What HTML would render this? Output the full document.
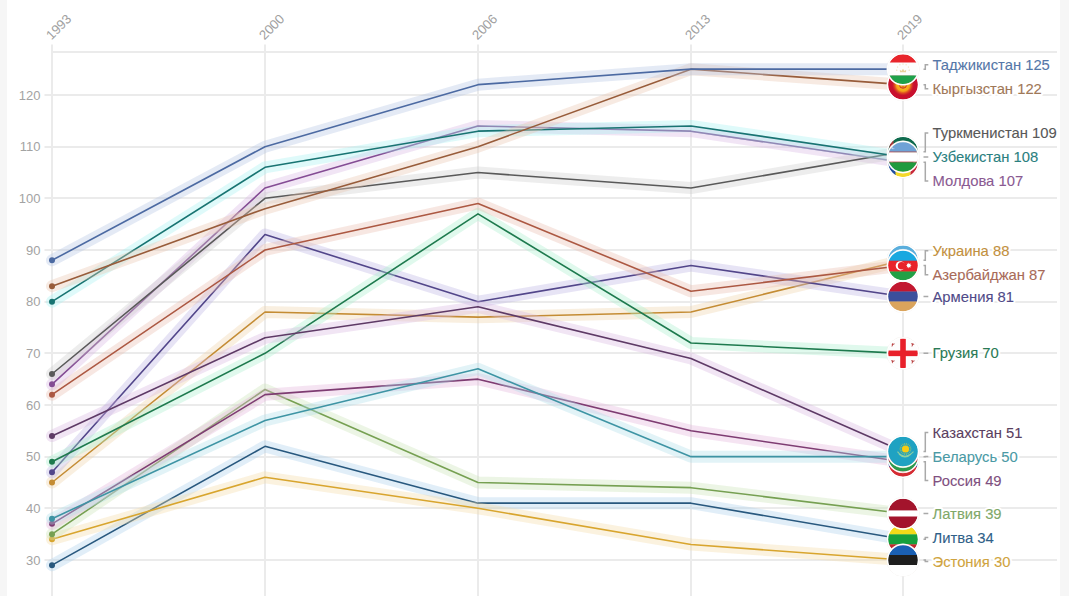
<!DOCTYPE html>
<html><head><meta charset="utf-8">
<style>
html,body{margin:0;padding:0;background:#fff;}
body{width:1069px;height:596px;overflow:hidden;position:relative;}
svg{position:absolute;left:0;top:0;}
text{font-family:"Liberation Sans",sans-serif;}
</style></head><body>
<svg width="1069" height="596" viewBox="0 0 1069 596">
<rect x="0" y="0" width="1069" height="596" fill="#fff"/>
<rect x="0" y="0" width="7" height="596" fill="#f6f6f6"/>
<rect x="1060" y="0" width="9" height="596" fill="#f6f6f6"/>

<g stroke="#ebebeb" stroke-width="2"><line x1="51" y1="52" x2="1057" y2="52"/><line x1="44.5" y1="560.00" x2="1057" y2="560.00"/><line x1="44.5" y1="508.00" x2="1057" y2="508.00"/><line x1="44.5" y1="457.00" x2="1057" y2="457.00"/><line x1="44.5" y1="405.00" x2="1057" y2="405.00"/><line x1="44.5" y1="353.00" x2="1057" y2="353.00"/><line x1="44.5" y1="302.00" x2="1057" y2="302.00"/><line x1="44.5" y1="250.00" x2="1057" y2="250.00"/><line x1="44.5" y1="198.00" x2="1057" y2="198.00"/><line x1="44.5" y1="147.00" x2="1057" y2="147.00"/><line x1="44.5" y1="95.00" x2="1057" y2="95.00"/><line x1="52.00" y1="44.5" x2="52.00" y2="596"/><line x1="265.00" y1="44.5" x2="265.00" y2="596"/><line x1="478.00" y1="44.5" x2="478.00" y2="596"/><line x1="691.00" y1="44.5" x2="691.00" y2="596"/><line x1="903.00" y1="44.5" x2="903.00" y2="596"/></g>
<g fill="#a3a3a3" font-size="13"><text x="40.5" y="564.80" text-anchor="end">30</text><text x="40.5" y="513.13" text-anchor="end">40</text><text x="40.5" y="461.47" text-anchor="end">50</text><text x="40.5" y="409.80" text-anchor="end">60</text><text x="40.5" y="358.13" text-anchor="end">70</text><text x="40.5" y="306.47" text-anchor="end">80</text><text x="40.5" y="254.80" text-anchor="end">90</text><text x="40.5" y="203.13" text-anchor="end">100</text><text x="40.5" y="151.47" text-anchor="end">110</text><text x="40.5" y="99.80" text-anchor="end">120</text></g>
<g fill="#a0a0a0" font-size="13.2"><text transform="translate(51.50,40.5) rotate(-45)">1993</text><text transform="translate(264.50,40.5) rotate(-45)">2000</text><text transform="translate(477.50,40.5) rotate(-45)">2006</text><text transform="translate(690.50,40.5) rotate(-45)">2013</text><text transform="translate(902.50,40.5) rotate(-45)">2019</text></g>
<g><polyline points="52.00,565.17 265.00,446.33 478.00,503.17 691.00,503.17 903.00,539.33" stroke="#add0eb" stroke-opacity="0.36" stroke-width="12" fill="none" stroke-linejoin="round" stroke-linecap="round"/><polyline points="52.00,565.17 265.00,446.33 478.00,503.17 691.00,503.17 903.00,539.33" stroke="#28587e" stroke-width="1.6" fill="none" stroke-linejoin="round"/><circle cx="52.00" cy="565.17" r="3" fill="#28587e"/><polyline points="52.00,539.33 265.00,477.33 478.00,508.33 691.00,544.50 903.00,560.00" stroke="#f3dca5" stroke-opacity="0.36" stroke-width="12" fill="none" stroke-linejoin="round" stroke-linecap="round"/><polyline points="52.00,539.33 265.00,477.33 478.00,508.33 691.00,544.50 903.00,560.00" stroke="#d8a52e" stroke-width="1.6" fill="none" stroke-linejoin="round"/><circle cx="52.00" cy="539.33" r="3" fill="#d8a52e"/><polyline points="52.00,534.17 265.00,389.50 478.00,482.50 691.00,487.67 903.00,513.50" stroke="#cae2b6" stroke-opacity="0.36" stroke-width="12" fill="none" stroke-linejoin="round" stroke-linecap="round"/><polyline points="52.00,534.17 265.00,389.50 478.00,482.50 691.00,487.67 903.00,513.50" stroke="#76a052" stroke-width="1.6" fill="none" stroke-linejoin="round"/><circle cx="52.00" cy="534.17" r="3" fill="#76a052"/><polyline points="52.00,523.83 265.00,394.67 478.00,379.17 691.00,430.83 903.00,461.83" stroke="#e4b4db" stroke-opacity="0.36" stroke-width="12" fill="none" stroke-linejoin="round" stroke-linecap="round"/><polyline points="52.00,523.83 265.00,394.67 478.00,379.17 691.00,430.83 903.00,461.83" stroke="#7e3c72" stroke-width="1.6" fill="none" stroke-linejoin="round"/><circle cx="52.00" cy="523.83" r="3" fill="#7e3c72"/><polyline points="52.00,518.67 265.00,420.50 478.00,368.83 691.00,456.67 903.00,456.67" stroke="#b0dfe8" stroke-opacity="0.36" stroke-width="12" fill="none" stroke-linejoin="round" stroke-linecap="round"/><polyline points="52.00,518.67 265.00,420.50 478.00,368.83 691.00,456.67 903.00,456.67" stroke="#3e94a4" stroke-width="1.6" fill="none" stroke-linejoin="round"/><circle cx="52.00" cy="518.67" r="3" fill="#3e94a4"/><polyline points="52.00,482.50 265.00,312.00 478.00,317.17 691.00,312.00 903.00,260.33" stroke="#eed4aa" stroke-opacity="0.36" stroke-width="12" fill="none" stroke-linejoin="round" stroke-linecap="round"/><polyline points="52.00,482.50 265.00,312.00 478.00,317.17 691.00,312.00 903.00,260.33" stroke="#c48c34" stroke-width="1.6" fill="none" stroke-linejoin="round"/><circle cx="52.00" cy="482.50" r="3" fill="#c48c34"/><polyline points="52.00,472.17 265.00,234.50 478.00,301.67 691.00,265.50 903.00,296.50" stroke="#bdb5e3" stroke-opacity="0.36" stroke-width="12" fill="none" stroke-linejoin="round" stroke-linecap="round"/><polyline points="52.00,472.17 265.00,234.50 478.00,301.67 691.00,265.50 903.00,296.50" stroke="#52468a" stroke-width="1.6" fill="none" stroke-linejoin="round"/><circle cx="52.00" cy="472.17" r="3" fill="#52468a"/><polyline points="52.00,461.83 265.00,353.33 478.00,213.83 691.00,343.00 903.00,353.33" stroke="#a9efce" stroke-opacity="0.36" stroke-width="12" fill="none" stroke-linejoin="round" stroke-linecap="round"/><polyline points="52.00,461.83 265.00,353.33 478.00,213.83 691.00,343.00 903.00,353.33" stroke="#1e7a4e" stroke-width="1.6" fill="none" stroke-linejoin="round"/><circle cx="52.00" cy="461.83" r="3" fill="#1e7a4e"/><polyline points="52.00,436.00 265.00,337.83 478.00,306.83 691.00,358.50 903.00,451.50" stroke="#d9b8e0" stroke-opacity="0.36" stroke-width="12" fill="none" stroke-linejoin="round" stroke-linecap="round"/><polyline points="52.00,436.00 265.00,337.83 478.00,306.83 691.00,358.50 903.00,451.50" stroke="#5e3a66" stroke-width="1.6" fill="none" stroke-linejoin="round"/><circle cx="52.00" cy="436.00" r="3" fill="#5e3a66"/><polyline points="52.00,394.67 265.00,250.00 478.00,203.50 691.00,291.33 903.00,265.50" stroke="#e8bcb0" stroke-opacity="0.36" stroke-width="12" fill="none" stroke-linejoin="round" stroke-linecap="round"/><polyline points="52.00,394.67 265.00,250.00 478.00,203.50 691.00,291.33 903.00,265.50" stroke="#ac5842" stroke-width="1.6" fill="none" stroke-linejoin="round"/><circle cx="52.00" cy="394.67" r="3" fill="#ac5842"/><polyline points="52.00,384.33 265.00,188.00 478.00,126.00 691.00,131.17 903.00,162.17" stroke="#d8b6e2" stroke-opacity="0.36" stroke-width="12" fill="none" stroke-linejoin="round" stroke-linecap="round"/><polyline points="52.00,384.33 265.00,188.00 478.00,126.00 691.00,131.17 903.00,162.17" stroke="#844c94" stroke-width="1.6" fill="none" stroke-linejoin="round"/><circle cx="52.00" cy="384.33" r="3" fill="#844c94"/><polyline points="52.00,374.00 265.00,198.33 478.00,172.50 691.00,188.00 903.00,151.83" stroke="#cccccc" stroke-opacity="0.36" stroke-width="12" fill="none" stroke-linejoin="round" stroke-linecap="round"/><polyline points="52.00,374.00 265.00,198.33 478.00,172.50 691.00,188.00 903.00,151.83" stroke="#595959" stroke-width="1.6" fill="none" stroke-linejoin="round"/><circle cx="52.00" cy="374.00" r="3" fill="#595959"/><polyline points="52.00,301.67 265.00,167.33 478.00,131.17 691.00,126.00 903.00,157.00" stroke="#a6f2f0" stroke-opacity="0.36" stroke-width="12" fill="none" stroke-linejoin="round" stroke-linecap="round"/><polyline points="52.00,301.67 265.00,167.33 478.00,131.17 691.00,126.00 903.00,157.00" stroke="#187472" stroke-width="1.6" fill="none" stroke-linejoin="round"/><circle cx="52.00" cy="301.67" r="3" fill="#187472"/><polyline points="52.00,286.17 265.00,208.67 478.00,146.67 691.00,69.17 903.00,84.67" stroke="#e8c4b0" stroke-opacity="0.36" stroke-width="12" fill="none" stroke-linejoin="round" stroke-linecap="round"/><polyline points="52.00,286.17 265.00,208.67 478.00,146.67 691.00,69.17 903.00,84.67" stroke="#985c3a" stroke-width="1.6" fill="none" stroke-linejoin="round"/><circle cx="52.00" cy="286.17" r="3" fill="#985c3a"/><polyline points="52.00,260.33 265.00,146.67 478.00,84.67 691.00,69.17 903.00,69.17" stroke="#b4c5e4" stroke-opacity="0.36" stroke-width="12" fill="none" stroke-linejoin="round" stroke-linecap="round"/><polyline points="52.00,260.33 265.00,146.67 478.00,84.67 691.00,69.17 903.00,69.17" stroke="#4c6aa2" stroke-width="1.6" fill="none" stroke-linejoin="round"/><circle cx="52.00" cy="260.33" r="3" fill="#4c6aa2"/></g>
<defs><clipPath id="clip_tj"><circle cx="903.00" cy="69.17" r="15"/></clipPath><clipPath id="clip_kg"><circle cx="903.00" cy="84.67" r="15"/></clipPath><clipPath id="clip_tm"><circle cx="903.00" cy="151.83" r="15"/></clipPath><clipPath id="clip_md"><circle cx="903.00" cy="162.17" r="15"/></clipPath><clipPath id="clip_uz"><circle cx="903.00" cy="157.00" r="15"/></clipPath><clipPath id="clip_ua"><circle cx="903.00" cy="260.33" r="15"/></clipPath><clipPath id="clip_az"><circle cx="903.00" cy="265.50" r="15"/></clipPath><clipPath id="clip_am"><circle cx="903.00" cy="296.50" r="15"/></clipPath><clipPath id="clip_ge"><circle cx="903.00" cy="353.33" r="15"/></clipPath><clipPath id="clip_ru"><circle cx="903.00" cy="461.83" r="15"/></clipPath><clipPath id="clip_by"><circle cx="903.00" cy="456.67" r="15"/></clipPath><clipPath id="clip_kz"><circle cx="903.00" cy="451.50" r="15"/></clipPath><clipPath id="clip_lt"><circle cx="903.00" cy="539.33" r="15"/></clipPath><clipPath id="clip_lv"><circle cx="903.00" cy="513.50" r="15"/></clipPath><clipPath id="clip_ee"><circle cx="903.00" cy="560.00" r="15"/></clipPath></defs>
<circle cx="903.00" cy="539.33" r="16.2" fill="none" stroke="#ece8e2" stroke-width="0.6"/><g clip-path="url(#clip_lt)"><rect x="888.00" y="524.33" width="30" height="10.30" fill="#f2da18"/><rect x="888.00" y="534.33" width="30" height="10.30" fill="#17a03c"/><rect x="888.00" y="544.33" width="30" height="10.30" fill="#c1272d"/></g><circle cx="903.00" cy="539.33" r="15.5" fill="none" stroke="#fff" stroke-width="1.4"/><circle cx="903.00" cy="560.00" r="16.2" fill="none" stroke="#ece8e2" stroke-width="0.6"/><g clip-path="url(#clip_ee)"><rect x="888.00" y="545.00" width="30" height="10.30" fill="#1a60b4"/><rect x="888.00" y="555.00" width="30" height="10.30" fill="#1e1e1e"/><rect x="888.00" y="565.00" width="30" height="10.30" fill="#ffffff"/></g><circle cx="903.00" cy="560.00" r="15.5" fill="none" stroke="#fff" stroke-width="1.4"/><circle cx="903.00" cy="513.50" r="16.2" fill="none" stroke="#ece8e2" stroke-width="0.6"/><g clip-path="url(#clip_lv)"><rect x="888.00" y="498.50" width="30" height="12.30" fill="#a3142c"/><rect x="888.00" y="510.50" width="30" height="6.30" fill="#ffffff"/><rect x="888.00" y="516.50" width="30" height="12.30" fill="#a3142c"/></g><circle cx="903.00" cy="513.50" r="15.5" fill="none" stroke="#fff" stroke-width="1.4"/><circle cx="903.00" cy="461.83" r="16.2" fill="none" stroke="#ece8e2" stroke-width="0.6"/><g clip-path="url(#clip_ru)"><rect x="888.00" y="446.83" width="30" height="10.30" fill="#ffffff"/><rect x="888.00" y="456.83" width="30" height="10.30" fill="#2a4ea8"/><rect x="888.00" y="466.83" width="30" height="10.30" fill="#d52b32"/></g><circle cx="903.00" cy="461.83" r="15.5" fill="none" stroke="#fff" stroke-width="1.4"/><circle cx="903.00" cy="456.67" r="16.2" fill="none" stroke="#ece8e2" stroke-width="0.6"/><g clip-path="url(#clip_by)"><rect x="888.00" y="441.67" width="30" height="10.20" fill="#c8313e"/><rect x="888.00" y="451.57" width="30" height="10.50" fill="#c8313e"/><rect x="888.00" y="461.77" width="30" height="10.20" fill="#2a9a4c"/></g><circle cx="903.00" cy="456.67" r="15.5" fill="none" stroke="#fff" stroke-width="1.4"/><circle cx="903.00" cy="260.33" r="16.2" fill="none" stroke="#ece8e2" stroke-width="0.6"/><g clip-path="url(#clip_ua)"><rect x="888.00" y="245.33" width="30" height="15.30" fill="#5aaedc"/><rect x="888.00" y="260.33" width="30" height="15.30" fill="#f8d21a"/></g><circle cx="903.00" cy="260.33" r="15.5" fill="none" stroke="#fff" stroke-width="1.4"/><circle cx="903.00" cy="296.50" r="16.2" fill="none" stroke="#ece8e2" stroke-width="0.6"/><g clip-path="url(#clip_am)"><rect x="888.00" y="281.50" width="30" height="10.30" fill="#c2172f"/><rect x="888.00" y="291.50" width="30" height="10.30" fill="#3b4f9c"/><rect x="888.00" y="301.50" width="30" height="10.30" fill="#daa45c"/></g><circle cx="903.00" cy="296.50" r="15.5" fill="none" stroke="#fff" stroke-width="1.4"/><circle cx="903.00" cy="353.33" r="16.2" fill="none" stroke="#ece8e2" stroke-width="0.6"/><g clip-path="url(#clip_ge)"><rect x="888.0" y="338.3335" width="30" height="30" fill="#fdfdfd"/><rect x="900.2" y="338.3335" width="5.6" height="30" fill="#e8202a"/><rect x="888.0" y="350.5335" width="30" height="5.6" fill="#e8202a"/><path d="M891.5,343.8335 q1.5,1 3,0 M892.0,343.2335 q1,1.6 0,3.2" stroke="#b02a2a" stroke-width="0.9" fill="none"/><path d="M911.5,343.8335 q1.5,1 3,0 M912.0,343.2335 q1,1.6 0,3.2" stroke="#b02a2a" stroke-width="0.9" fill="none"/><path d="M891.5,360.8335 q1.5,1 3,0 M892.0,360.2335 q1,1.6 0,3.2" stroke="#b02a2a" stroke-width="0.9" fill="none"/><path d="M911.5,360.8335 q1.5,1 3,0 M912.0,360.2335 q1,1.6 0,3.2" stroke="#b02a2a" stroke-width="0.9" fill="none"/></g><circle cx="903.00" cy="353.33" r="15.5" fill="none" stroke="#fff" stroke-width="1.4"/><circle cx="903.00" cy="451.50" r="16.2" fill="none" stroke="#ece8e2" stroke-width="0.6"/><g clip-path="url(#clip_kz)"><rect x="888.0" y="436.50023" width="30" height="30" fill="#1fa2c2"/><g stroke="#b8c850" stroke-width="0.7"><line x1="909.70" y1="449.00" x2="911.50" y2="449.00"/><line x1="909.45" y1="450.44" x2="911.14" y2="451.05"/><line x1="908.72" y1="451.70" x2="910.10" y2="452.86"/><line x1="907.60" y1="452.64" x2="908.50" y2="454.20"/><line x1="906.23" y1="453.14" x2="906.54" y2="454.91"/><line x1="904.77" y1="453.14" x2="904.46" y2="454.91"/><line x1="903.40" y1="452.64" x2="902.50" y2="454.20"/><line x1="902.28" y1="451.70" x2="900.90" y2="452.86"/><line x1="901.55" y1="450.44" x2="899.86" y2="451.05"/><line x1="901.30" y1="449.00" x2="899.50" y2="449.00"/><line x1="901.55" y1="447.56" x2="899.86" y2="446.95"/><line x1="902.28" y1="446.30" x2="900.90" y2="445.14"/><line x1="903.40" y1="445.36" x2="902.50" y2="443.80"/><line x1="904.77" y1="444.86" x2="904.46" y2="443.09"/><line x1="906.23" y1="444.86" x2="906.54" y2="443.09"/><line x1="907.60" y1="445.36" x2="908.50" y2="443.80"/><line x1="908.72" y1="446.30" x2="910.10" y2="445.14"/><line x1="909.45" y1="447.56" x2="911.14" y2="446.95"/></g><circle cx="905.5" cy="449.00023" r="3.6" fill="#f8cc12"/><path d="M897.5,451.70023 q7,9 16,0 M899.0,454.00023 q6,6 12,0" fill="none" stroke="#8fd0a0" stroke-width="1.1"/></g><circle cx="903.00" cy="451.50" r="15.5" fill="none" stroke="#fff" stroke-width="1.4"/><circle cx="903.00" cy="265.50" r="16.2" fill="none" stroke="#ece8e2" stroke-width="0.6"/><g clip-path="url(#clip_az)"><rect x="888.00" y="250.50" width="30" height="10.50" fill="#18a8e0"/><rect x="888.00" y="260.70" width="30" height="11.10" fill="#e8232b"/><rect x="888.00" y="271.50" width="30" height="9.30" fill="#22a046"/><circle cx="900.3" cy="265.80011" r="4.6" fill="#fff"/><circle cx="901.6" cy="265.80011" r="3.8" fill="#e8232b"/><polygon points="911.70,265.50 910.28,266.11 910.85,267.55 909.41,266.98 908.80,268.40 908.19,266.98 906.75,267.55 907.32,266.11 905.90,265.50 907.32,264.89 906.75,263.45 908.19,264.02 908.80,262.60 909.41,264.02 910.85,263.45 910.28,264.89" fill="#fff"/></g><circle cx="903.00" cy="265.50" r="15.5" fill="none" stroke="#fff" stroke-width="1.4"/><circle cx="903.00" cy="162.17" r="16.2" fill="none" stroke="#ece8e2" stroke-width="0.6"/><g clip-path="url(#clip_md)"><rect x="888.0" y="147.16671" width="8" height="30" fill="#1f4ea0"/><rect x="895.5" y="147.16671" width="15" height="30" fill="#f4d82a"/><rect x="910.5" y="147.16671" width="8" height="30" fill="#c8283a"/></g><circle cx="903.00" cy="162.17" r="15.5" fill="none" stroke="#fff" stroke-width="1.4"/><circle cx="903.00" cy="151.83" r="16.2" fill="none" stroke="#ece8e2" stroke-width="0.6"/><g clip-path="url(#clip_tm)"><rect x="888.0" y="136.83337" width="30" height="30" fill="#0f6b4e"/><rect x="889.5" y="136.83337" width="4" height="30" fill="#a8383a"/></g><circle cx="903.00" cy="151.83" r="15.5" fill="none" stroke="#fff" stroke-width="1.4"/><circle cx="903.00" cy="157.00" r="16.2" fill="none" stroke="#ece8e2" stroke-width="0.6"/><g clip-path="url(#clip_uz)"><rect x="888.00" y="142.00" width="30" height="9.90" fill="#6ea2d6"/><rect x="888.00" y="151.60" width="30" height="1.05" fill="#c8464a"/><rect x="888.00" y="152.35" width="30" height="9.60" fill="#ffffff"/><rect x="888.00" y="161.65" width="30" height="1.05" fill="#c8464a"/><rect x="888.00" y="162.40" width="30" height="9.90" fill="#1f9a3e"/><circle cx="893.0" cy="147.50004" r="1.8" fill="#fff" opacity="0.6"/><circle cx="893.8" cy="147.00004" r="1.5" fill="#6ea2d6"/></g><circle cx="903.00" cy="157.00" r="15.5" fill="none" stroke="#fff" stroke-width="1.4"/><circle cx="903.00" cy="84.67" r="16.2" fill="none" stroke="#ece8e2" stroke-width="0.6"/><g clip-path="url(#clip_kg)"><defs><radialGradient id="kgg"><stop offset="0" stop-color="#f8d020"/><stop offset="0.6" stop-color="#f5a21a"/><stop offset="1" stop-color="#e04a1a" stop-opacity="0"/></radialGradient></defs><rect x="888.0" y="69.66666000000001" width="30" height="30" fill="#c8102e"/><circle cx="903.0" cy="84.66666000000001" r="11" fill="url(#kgg)"/><circle cx="903.0" cy="84.66666000000001" r="3.6" fill="#f0a818" stroke="#c8102e" stroke-width="0.8"/><path d="M900.0,84.66666000000001 h6 M903.0,81.66666000000001 v6" stroke="#c8102e" stroke-width="0.6"/></g><circle cx="903.00" cy="84.67" r="15.5" fill="none" stroke="#fff" stroke-width="1.4"/><circle cx="903.00" cy="69.17" r="16.2" fill="none" stroke="#ece8e2" stroke-width="0.6"/><g clip-path="url(#clip_tj)"><rect x="888.00" y="54.17" width="30" height="8.70" fill="#e8252b"/><rect x="888.00" y="62.57" width="30" height="13.20" fill="#fdfdfd"/><rect x="888.00" y="75.47" width="30" height="9.00" fill="#1ea14a"/><g fill="#e2c27a" opacity="0.75"><circle cx="909.20" cy="70.17" r="0.55"/><circle cx="908.37" cy="67.07" r="0.55"/><circle cx="906.10" cy="64.80" r="0.55"/><circle cx="903.00" cy="63.97" r="0.55"/><circle cx="899.90" cy="64.80" r="0.55"/><circle cx="897.63" cy="67.07" r="0.55"/><circle cx="896.80" cy="70.17" r="0.55"/><path d="M900.0,72.36665 L899.8,69.76665 L901.5,70.96665 L903.0,68.86665 L904.5,70.96665 L906.2,69.76665 L906.0,72.36665 Z"/></g></g><circle cx="903.00" cy="69.17" r="15.5" fill="none" stroke="#fff" stroke-width="1.4"/>
<g fill="none" stroke="#a9a9a9" stroke-width="1.5"><path d="M923.5,69.17 H925.3 V64.87 H928.3" /><path d="M923.5,84.67 H925.3 V88.87 H928.3" /><path d="M923.5,151.83 H925.3 V132.95 H928.3" /><path d="M923.5,157.00 H925.3 V156.95 H928.3" /><path d="M923.5,162.17 H925.3 V180.95 H928.3" /><path d="M923.5,260.33 H925.3 V250.87 H928.3" /><path d="M923.5,265.50 H925.3 V274.87 H928.3" /><path d="M923.5,296.50 H925.3 V296.45 H928.3" /><path d="M923.5,353.33 H925.3 V353.28 H928.3" /><path d="M923.5,451.50 H925.3 V432.62 H928.3" /><path d="M923.5,456.67 H925.3 V456.62 H928.3" /><path d="M923.5,461.83 H925.3 V480.62 H928.3" /><path d="M923.5,513.50 H925.3 V513.45 H928.3" /><path d="M923.5,539.33 H925.3 V537.60 H928.3" /><path d="M923.5,560.00 H925.3 V561.60 H928.3" /></g>
<g font-size="14.8"><text x="932.5" y="70.07" fill="#fff" stroke="#fff" stroke-width="4" stroke-linejoin="round">Таджикистан 125</text><text x="932.5" y="70.07" fill="#5577a8" stroke="#5577a8" stroke-width="0.1">Таджикистан 125</text><text x="932.5" y="94.07" fill="#fff" stroke="#fff" stroke-width="4" stroke-linejoin="round">Кыргызстан 122</text><text x="932.5" y="94.07" fill="#9f7858" stroke="#9f7858" stroke-width="0.1">Кыргызстан 122</text><text x="932.5" y="138.15" fill="#fff" stroke="#fff" stroke-width="4" stroke-linejoin="round">Туркменистан 109</text><text x="932.5" y="138.15" fill="#585858" stroke="#585858" stroke-width="0.1">Туркменистан 109</text><text x="932.5" y="162.15" fill="#fff" stroke="#fff" stroke-width="4" stroke-linejoin="round">Узбекистан 108</text><text x="932.5" y="162.15" fill="#2a8080" stroke="#2a8080" stroke-width="0.1">Узбекистан 108</text><text x="932.5" y="186.15" fill="#fff" stroke="#fff" stroke-width="4" stroke-linejoin="round">Молдова 107</text><text x="932.5" y="186.15" fill="#8a5a92" stroke="#8a5a92" stroke-width="0.1">Молдова 107</text><text x="932.5" y="256.07" fill="#fff" stroke="#fff" stroke-width="4" stroke-linejoin="round">Украина 88</text><text x="932.5" y="256.07" fill="#c29040" stroke="#c29040" stroke-width="0.1">Украина 88</text><text x="932.5" y="280.07" fill="#fff" stroke="#fff" stroke-width="4" stroke-linejoin="round">Азербайджан 87</text><text x="932.5" y="280.07" fill="#a86a58" stroke="#a86a58" stroke-width="0.1">Азербайджан 87</text><text x="932.5" y="301.65" fill="#fff" stroke="#fff" stroke-width="4" stroke-linejoin="round">Армения 81</text><text x="932.5" y="301.65" fill="#504a88" stroke="#504a88" stroke-width="0.1">Армения 81</text><text x="932.5" y="358.48" fill="#fff" stroke="#fff" stroke-width="4" stroke-linejoin="round">Грузия 70</text><text x="932.5" y="358.48" fill="#2a7a55" stroke="#2a7a55" stroke-width="0.1">Грузия 70</text><text x="932.5" y="437.82" fill="#fff" stroke="#fff" stroke-width="4" stroke-linejoin="round">Казахстан 51</text><text x="932.5" y="437.82" fill="#5a4060" stroke="#5a4060" stroke-width="0.1">Казахстан 51</text><text x="932.5" y="461.82" fill="#fff" stroke="#fff" stroke-width="4" stroke-linejoin="round">Беларусь 50</text><text x="932.5" y="461.82" fill="#4a9aa5" stroke="#4a9aa5" stroke-width="0.1">Беларусь 50</text><text x="932.5" y="485.82" fill="#fff" stroke="#fff" stroke-width="4" stroke-linejoin="round">Россия 49</text><text x="932.5" y="485.82" fill="#805080" stroke="#805080" stroke-width="0.1">Россия 49</text><text x="932.5" y="518.65" fill="#fff" stroke="#fff" stroke-width="4" stroke-linejoin="round">Латвия 39</text><text x="932.5" y="518.65" fill="#80a868" stroke="#80a868" stroke-width="0.1">Латвия 39</text><text x="932.5" y="542.80" fill="#fff" stroke="#fff" stroke-width="4" stroke-linejoin="round">Литва 34</text><text x="932.5" y="542.80" fill="#2f6088" stroke="#2f6088" stroke-width="0.1">Литва 34</text><text x="932.5" y="566.80" fill="#fff" stroke="#fff" stroke-width="4" stroke-linejoin="round">Эстония 30</text><text x="932.5" y="566.80" fill="#d0a440" stroke="#d0a440" stroke-width="0.1">Эстония 30</text></g>
</svg></body></html>
